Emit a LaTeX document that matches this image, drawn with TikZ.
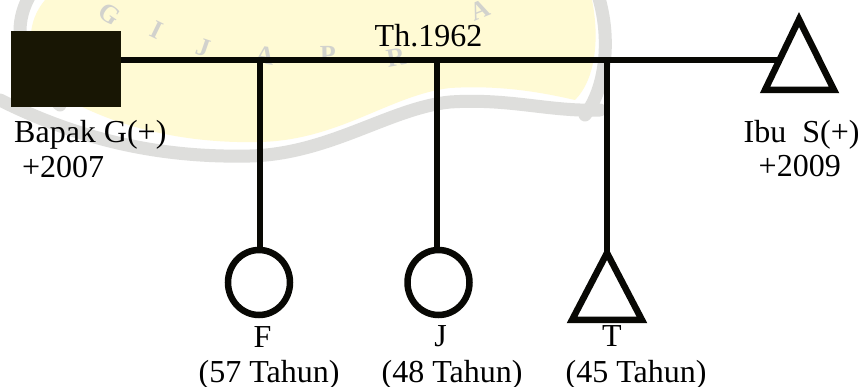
\documentclass[tikz,border=0pt]{standalone}
\usepackage{fontspec}
\setmainfont{Liberation Serif}
\usetikzlibrary{shapes.geometric}
\definecolor{ink}{RGB}{8,8,4}
\definecolor{sqfill}{RGB}{24,22,4}
\definecolor{wmY}{RGB}{255,250,212}
\definecolor{wmG}{RGB}{222,222,220}
\definecolor{wmL}{RGB}{210,210,205}
\begin{document}
\begin{tikzpicture}[x=1pt,y=-1pt,
  lbl/.style={font=\fontsize{32}{38}\selectfont, inner sep=0pt, anchor=base west},
  ln/.style={line width=5.2pt, draw=ink},
  femalebox/.style={ellipse, draw=ink, line width=6.5pt, minimum width=62pt, minimum height=65pt, inner sep=0pt},
  tri/.style={draw=ink, line width=6.5pt, line join=miter},
  wmletter/.style={font=\fontsize{26}{30}\selectfont\bfseries, text=wmL, inner sep=0pt},
  ribbon/.style={draw=wmG, line width=13pt, line cap=round}
]
\useasboundingbox (0,0) rectangle (865,387);
\fill[white] (0,0) rectangle (865,387);
% watermark (faint logo)
\fill[wmY] (45,0) -- (592,0) .. controls (600,40) and (595,80) .. (575,100)
  .. controls (540,92) and (500,85) .. (450,88)
  .. controls (390,95) and (340,140) .. (260,142)
  .. controls (180,144) and (110,125) .. (60,95)
  .. controls (30,70) and (20,30) .. (45,0) -- cycle;
\draw[ribbon] (0,100) .. controls (80,140) and (160,158) .. (250,156)
  .. controls (330,154) and (390,108) .. (450,102)
  .. controls (510,98) and (550,112) .. (600,110);
\draw[ribbon] (30,-5) .. controls (10,30) and (20,70) .. (60,105);
\draw[ribbon] (598,-5) .. controls (612,40) and (605,90) .. (585,115);
\node[wmletter, rotate=-34] (wg) at (110,14) {G};
\node[wmletter, rotate=-26] (wi) at (157,30) {I};
\node[wmletter, rotate=-19] (wj) at (203,48) {J};
\node[wmletter, rotate=-9] (wa) at (265,55) {A};
\node[wmletter, rotate=1] (wp) at (328,55) {P};
\node[wmletter, rotate=10] (wr) at (396,57) {R};
\node[wmletter, rotate=22] (wa2) at (480,10) {A};
% parents
\node[fill=sqfill, minimum width=110pt, minimum height=76pt, inner sep=0pt, anchor=north west] (bapak) at (11,31) {};
\coordinate (ibuApex) at (799,19.5);
\coordinate (ibuBL) at (765,90);
\coordinate (ibuBR) at (834,90);
\draw[tri] (ibuApex) -- (ibuBR) -- (ibuBL) -- cycle;
\coordinate (ibuL) at (779.5,60);
\draw[ln, line width=5.5pt] (bapak.east |- ibuL) -- (ibuL);
% children
\node[femalebox] (f) at (259,282.5) {};
\node[femalebox] (j) at (438.5,282.5) {};
\coordinate (tApex) at (607,253);
\coordinate (tBL) at (572,320);
\coordinate (tBR) at (642,320);
\draw[tri] (tApex) -- (tBR) -- (tBL) -- cycle;
\coordinate (jf) at (260,60);
\coordinate (jj) at (437,60);
\coordinate (jt) at (607,60);
\draw[ln] (jf) -- (jf |- f.north);
\draw[ln] (jj) -- (jj |- j.north);
\draw[ln] (jt) -- (tApex);
% labels
\node[lbl] (year) at (374.5,47) {Th.1962};
\node[lbl] (lbapak) at (14,143) {Bapak G(+)};
\node[lbl] (lbapakd) at (22,178) {+2007};
\node[lbl] (libu) at (743.5,143) {Ibu\ \ S(+)};
\node[lbl] (libud) at (758.5,177) {+2009};
\node[lbl, anchor=base] (lf) at (262.5,348) {F};
\node[lbl, anchor=base] (lj) at (440.5,347) {J};
\node[lbl, anchor=base] (lt) at (612,347) {T};
\node[lbl] (af) at (198.5,382) {(57 Tahun)};
\node[lbl] (aj) at (381.5,382) {(48 Tahun)};
\node[lbl] (at) at (565.5,382) {(45 Tahun)};
\end{tikzpicture}
\end{document}
